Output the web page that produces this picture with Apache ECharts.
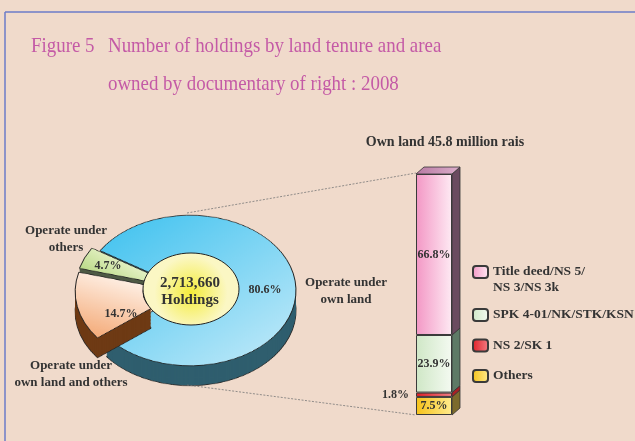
<!DOCTYPE html>
<html>
<head>
<meta charset="utf-8">
<script src="https://cdn.jsdelivr.net/npm/echarts@6/dist/echarts.min.js"></script>
<style>
  html, body { margin: 0; padding: 0; }
  #wrap { position: relative; width: 635px; height: 441px; background: #f0dacb; overflow: hidden; }
  #pie { position: absolute; left: 40px; top: 183.5px; width: 300px; height: 300px; transform: scaleY(0.71); transform-origin: 0 0; }
  #chart { position: absolute; left: 0; top: 0; width: 635px; height: 441px; }
</style>
</head>
<body>
<div id="wrap">
  <div id="pie"></div>
  <div id="chart"></div>
</div>
<script>
// holdings by land tenure (percent of 2,713,660 holdings)
const pieNames = ['Operate under own land', 'Operate under own land and others', 'Operate under others'];
const pieValues = [80.6, 14.7, 4.7];
const pieTop = ['#3cc1ef', '#f3a46e', '#a9d06f'];
const pieTopLight = ['#c6ebf9', '#fff3ea', '#eef6d2'];
const pieSide = ['#2f5e6e', '#6e3a14', '#4f5a45'];
const totalHoldings = '2,713,660';

// own land 45.8 million rais, by documentary of right (bottom to top)
const landNames = ['Others', 'NS 2/SK 1', 'SPK 4-01/NK/STK/KSN', 'Title deed/NS 5/NS 3/NS 3k'];
const landValues = [7.5, 1.8, 23.9, 66.8];
const landDark = ['#f6c21a', '#e01f26', '#cfe7c6', '#f397c5'];
const landLight = ['#ffeb8e', '#f27f86', '#f4faf1', '#feeaf3'];
const landSide = ['#7c6a2c', '#a82025', '#5e7a66', '#6b4b60'];

const serif = '"Liberation Serif", "Times New Roman", serif';
const ink = '#333333';

// ---------- pie (squashed by css to look like an ellipse) ----------
let pieChart = echarts.init(document.getElementById('pie'));
let depth = 28, step = 2;
let pieSeries = [];

function pieData(top) {
    return pieValues.map(function (v, i) {
        return {
            name: pieNames[i],
            value: v,
            selected: i > 0,
            itemStyle: {
                color: top ? new echarts.graphic.LinearGradient(i === 0 ? 0 : 0.5, 0, i === 0 ? 1 : 0, 1, [
                    {offset: 0, color: i === 0 ? pieTop[i] : pieTopLight[i]},
                    {offset: 1, color: i === 0 ? pieTopLight[i] : pieTop[i]}
                ]) : pieSide[i]
            }
        };
    });
}

// side walls: stack of copies going down
for (let d = depth; d > 0; d -= step) {
    pieSeries.push({
        type: 'pie',
        center: [150, 150 + d],
        radius: [38, 106],
        startAngle: 148,
        clockwise: true,
        selectedMode: 'multiple',
        selectedOffset: 9,
        silent: true,
        label: {show: false},
        labelLine: {show: false},
        itemStyle: {borderColor: d === depth ? '#222' : 'transparent', borderWidth: d === depth ? 1 : 0},
        data: pieData(false)
    });
}
pieSeries.push({
    type: 'pie',
    center: [150, 150],
    radius: [38, 106],
    startAngle: 148,
    clockwise: true,
    selectedMode: 'multiple',
    selectedOffset: 9,
    silent: true,
    label: {show: false},
    labelLine: {show: false},
    itemStyle: {borderColor: '#222', borderWidth: 1},
    data: pieData(true)
});
pieChart.setOption({animation: false, series: pieSeries});

// ---------- main chart ----------
let myChart = echarts.init(document.getElementById('chart'));

let barSeries = landValues.map(function (v, i) {
    return {
        name: landNames[i],
        type: 'bar',
        stack: 'land',
        barWidth: '100%',
        data: [v],
        itemStyle: {
            color: new echarts.graphic.LinearGradient(0, 0, 1, 0, [
                {offset: 0, color: landDark[i]},
                {offset: 1, color: landLight[i]}
            ]),
            borderColor: '#3a3a3a',
            borderWidth: 1
        },
        label: {
            show: true,
            position: i === 1 ? 'left' : 'inside',
            distance: 7,
            formatter: v.toFixed(1) + '%',
            fontFamily: serif,
            fontWeight: 'bold',
            fontSize: 12,
            color: ink
        }
    };
});

// 3d side and top faces of the stacked bar
barSeries.push({
    type: 'custom',
    silent: true,
    data: landValues.map(function (v) { return [0, v]; }),
    renderItem: function (params, api) {
        let i = params.dataIndex;
        let start = 0;
        for (let k = 0; k < i; k++) start += landValues[k];
        let end = start + landValues[i];
        let b = api.coord([0, start]);
        let t = api.coord([0, end]);
        let half = api.size([1, 0])[0] / 2;
        let xl = b[0] - half, xr = b[0] + half;
        let dx = 8, dy = 7;
        let children = [{
            type: 'polygon',
            shape: {points: [[xr, b[1]], [xr + dx, b[1] - dy], [xr + dx, t[1] - dy], [xr, t[1]]]},
            style: {fill: landSide[i], stroke: '#333', lineWidth: 0.8}
        }];
        if (i === landValues.length - 1) {
            children.push({
                type: 'polygon',
                shape: {points: [[xl, t[1]], [xl + dx, t[1] - dy], [xr + dx, t[1] - dy], [xr, t[1]]]},
                style: {
                    fill: new echarts.graphic.LinearGradient(0, 0, 1, 0, [
                        {offset: 0, color: '#b87aa3'},
                        {offset: 1, color: '#dcaecb'}
                    ]),
                    stroke: '#333', lineWidth: 0.8
                }
            });
        }
        return {type: 'group', children: children};
    }
});

function txt(x, y, text, size, extra) {
    return Object.assign({
        type: 'text',
        x: x, y: y,
        silent: true,
        z: 10,
        style: {
            text: text,
            fill: ink,
            font: 'bold ' + size + 'px ' + serif,
            textAlign: 'center',
            textVerticalAlign: 'middle',
            lineHeight: 17
        }
    }, extra || {});
}

let titleStyle = function (text) {
    return {text: text, fill: '#c45aa6', font: 'normal 21px ' + serif, textAlign: 'left', textVerticalAlign: 'middle'};
};

myChart.setOption({
    animation: false,
    grid: {left: 416, width: 36, top: 174, height: 241},
    xAxis: {type: 'category', data: ['Own land'], show: false},
    yAxis: {type: 'value', min: 0, max: 100, show: false},
    legend: [
        {
            data: [landNames[3]],
            orient: 'vertical',
            left: 467, top: 243,
            itemWidth: 15, itemHeight: 12, itemGap: 14,
            selectedMode: false,
            // blank first line keeps the box level with the first text line
            formatter: function (name) { return '\n' + name.replace('NS 5/', 'NS 5/\n'); },
            textStyle: {fontFamily: serif, fontWeight: 'bold', fontSize: 13.5, color: ink, lineHeight: 16}
        },
        {
            data: [landNames[2], landNames[1], landNames[0]],
            orient: 'vertical',
            left: 467, top: 302,
            itemWidth: 15, itemHeight: 12, itemGap: 14.5,
            selectedMode: false,
            textStyle: {fontFamily: serif, fontWeight: 'bold', fontSize: 13.5, color: ink, lineHeight: 16}
        }
    ],
    series: barSeries,
    graphic: [
        // frame
        {type: 'line', silent: true, shape: {x1: 5, y1: 12, x2: 640, y2: 12}, style: {stroke: '#6c7bc9', lineWidth: 1.5}},
        {type: 'line', silent: true, shape: {x1: 5, y1: 12, x2: 5, y2: 445}, style: {stroke: '#6c7bc9', lineWidth: 1.5}},
        // title
        {type: 'text', x: 31, y: 46, scaleX: 0.9, silent: true, style: titleStyle('Figure 5')},
        {type: 'text', x: 108, y: 46, scaleX: 0.9, silent: true, style: titleStyle('Number of holdings by land tenure and area')},
        {type: 'text', x: 108, y: 84, scaleX: 0.9, silent: true, style: titleStyle('owned by documentary of right : 2008')},
        // connector lines
        {type: 'line', silent: true, shape: {x1: 187, y1: 213, x2: 416, y2: 173}, style: {stroke: '#777', lineWidth: 0.8, lineDash: [2, 1.5]}},
        {type: 'line', silent: true, shape: {x1: 187, y1: 385, x2: 416, y2: 415}, style: {stroke: '#777', lineWidth: 0.8, lineDash: [2, 1.5]}},
        // centre of the donut
        {
            type: 'ellipse', silent: true, z: 5,
            shape: {cx: 191, cy: 289, rx: 48, ry: 36},
            style: {
                fill: new echarts.graphic.RadialGradient(0.5, 0.55, 0.5, [
                    {offset: 0, color: '#f4ec3a'},
                    {offset: 1, color: '#fbf7c4'}
                ]),
                stroke: '#222', lineWidth: 1
            }
        },
        txt(190, 283, totalHoldings, 15),
        txt(190, 300, 'Holdings', 15),
        // pie labels
        txt(265, 290, pieValues[0].toFixed(1) + '%', 12),
        txt(121, 314, pieValues[1].toFixed(1) + '%', 12),
        txt(108, 266, pieValues[2].toFixed(1) + '%', 12),
        txt(346, 291.5, 'Operate under\nown land', 13),
        txt(71, 374.5, 'Operate under\nown land and others', 13),
        txt(66, 239.5, 'Operate under\nothers', 13),
        // bar caption
        txt(445, 142, 'Own land 45.8 million rais', 14)
    ]
});
</script>
</body>
</html>
